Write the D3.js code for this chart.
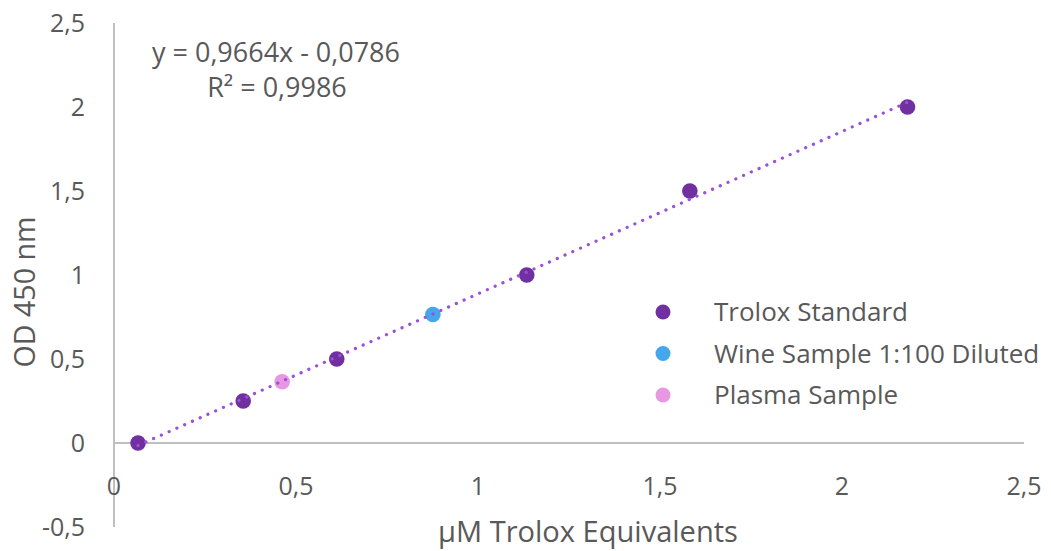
<!DOCTYPE html>
<html><head><meta charset="utf-8">
<script src="https://cdn.jsdelivr.net/npm/d3@7"></script>
<style>body{margin:0;background:#fff}svg{display:block}text{font-family:"Open Sans",sans-serif;fill:#595959}</style>
</head><body><svg id="c" width="1051" height="551"></svg>
<script>
const troloxX = [0.066, 0.355, 0.612, 1.134, 1.582, 2.180];
const troloxY = [0, 0.25, 0.5, 1.0, 1.5, 2.0];
const wineX = [0.876];
const wineY = [0.765];
const plasmaX = [0.462];
const plasmaY = [0.365];
const xTicks = [0, 0.5, 1, 1.5, 2, 2.5];
const yTicks = [-0.5, 0, 0.5, 1, 1.5, 2, 2.5];
const slope = 0.9664, intercept = -0.0786;
const seriesNames = ["Trolox Standard", "Wine Sample 1:100 Diluted", "Plasma Sample"];
const seriesColors = ["#7030A0", "#44A6EC", "#E898E2"];
const eqText = "y = 0,9664x - 0,0786";
const r2Text = "R² = 0,9986";

const svg = d3.select("#c");
const x = d3.scaleLinear().domain([0, 2.5]).range([114, 1024]);
const y = d3.scaleLinear().domain([-0.5, 2.5]).range([527, 23]);
const fmt = v => String(v).replace(".", ",");

// font size so that a given string has a given width
function sizeFor(str, width) {
  const t = svg.append("text").attr("font-size", 100).text(str);
  const w = t.node().getComputedTextLength();
  t.remove();
  return 100 * width / w;
}
const tickSize = sizeFor("2,5", 35);
const legendSize = sizeFor(seriesNames[0], 194);
const xTitleSize = sizeFor("µM Trolox Equivalents", 300);
const yTitleSize = sizeFor("OD 450 nm", 151);
const eqSize = sizeFor(eqText, 248);

// axes lines
svg.append("line").attr("x1", x(0)).attr("x2", x(0)).attr("y1", y(-0.5)).attr("y2", y(2.5))
  .attr("stroke", "#bfbfbf").attr("stroke-width", 2);
svg.append("line").attr("x1", x(0)).attr("x2", x(2.5)).attr("y1", y(0)).attr("y2", y(0))
  .attr("stroke", "#bfbfbf").attr("stroke-width", 2);

// tick labels
svg.append("g").selectAll("text").data(yTicks).join("text")
  .attr("x", 85).attr("y", d => y(d)).attr("dy", "0.35em").attr("text-anchor", "end")
  .attr("font-size", tickSize).text(fmt);
svg.append("g").selectAll("text").data(xTicks).join("text")
  .attr("x", d => x(d)).attr("y", 486).attr("dy", "0.35em").attr("text-anchor", "middle")
  .attr("font-size", tickSize).text(fmt);

// axis titles
svg.append("text").attr("transform", "translate(25,292) rotate(-90)").attr("text-anchor", "middle")
  .attr("dy", "0.35em").attr("font-size", yTitleSize).text("OD 450 nm");
svg.append("text").attr("x", 588).attr("y", 532).attr("text-anchor", "middle")
  .attr("dy", "0.35em").attr("font-size", xTitleSize).text("µM Trolox Equivalents");

// markers
const sets = [[troloxX, troloxY], [wineX, wineY], [plasmaX, plasmaY]];
sets.forEach((s, i) => {
  svg.append("g").selectAll("circle").data(s[0]).join("circle")
    .attr("cx", d => x(d)).attr("cy", (d, j) => y(s[1][j])).attr("r", 7.8)
    .attr("fill", seriesColors[i]);
});

// trendline
const xmin = d3.min(troloxX), xmax = d3.max(troloxX);
const line = d3.line().x(d => x(d)).y(d => y(slope * d + intercept));
svg.append("path").attr("d", line([xmin, xmax])).attr("fill", "none")
  .attr("stroke", "#9A50D8").attr("stroke-width", 3.2).attr("stroke-linecap", "round")
  .attr("stroke-dasharray", "0.1 8.4");

// equation
svg.append("text").attr("x", 276).attr("y", 53).attr("dy", "0.35em").attr("text-anchor", "middle")
  .attr("font-size", eqSize).text(eqText);
svg.append("text").attr("x", 277).attr("y", 88).attr("dy", "0.35em").attr("text-anchor", "middle")
  .attr("font-size", eqSize).text(r2Text);

// legend
const lg = svg.append("g");
seriesNames.forEach((n, i) => {
  const yy = 312 + i * 41.5;
  lg.append("circle").attr("cx", 663).attr("cy", yy).attr("r", 7.5).attr("fill", seriesColors[i]);
  lg.append("text").attr("x", 714).attr("y", yy).attr("dy", "0.35em").attr("font-size", legendSize).text(n);
});
</script></body></html>
